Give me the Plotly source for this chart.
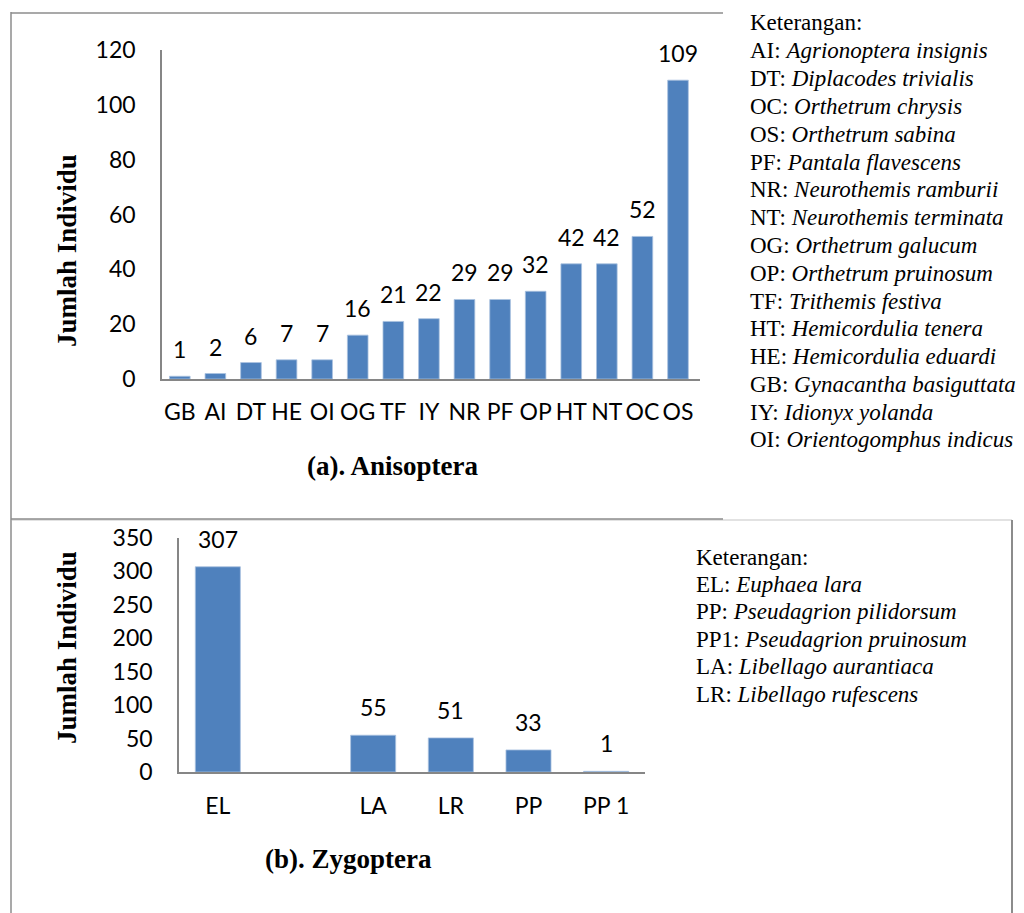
import plotly.graph_objects as go

# ---- data ----
aniso_codes = ["GB", "AI", "DT", "HE", "OI", "OG", "TF", "IY", "NR", "PF", "OP", "HT", "NT", "OC", "OS"]
aniso_counts = [1, 2, 6, 7, 7, 16, 21, 22, 29, 29, 32, 42, 42, 52, 109]
aniso_ticks = [0, 20, 40, 60, 80, 100, 120]

zygo_codes = ["EL", " ", "LA", "LR", "PP", "PP 1"]
zygo_counts = [307, None, 55, 51, 33, 1]
zygo_ticks = [0, 50, 100, 150, 200, 250, 300, 350]

aniso_legend_title = "Keterangan:"
aniso_legend = [
    ("AI", "Agrionoptera insignis"),
    ("DT", "Diplacodes trivialis"),
    ("OC", "Orthetrum chrysis"),
    ("OS", "Orthetrum sabina"),
    ("PF", "Pantala flavescens"),
    ("NR", "Neurothemis ramburii"),
    ("NT", "Neurothemis terminata"),
    ("OG", "Orthetrum galucum"),
    ("OP", "Orthetrum pruinosum"),
    ("TF", "Trithemis festiva"),
    ("HT", "Hemicordulia tenera"),
    ("HE", "Hemicordulia eduardi"),
    ("GB", "Gynacantha basiguttata"),
    ("IY", "Idionyx yolanda"),
    ("OI", "Orientogomphus indicus"),
]
zygo_legend = [
    ("EL", "Euphaea lara"),
    ("PP", "Pseudagrion pilidorsum"),
    ("PP1", "Pseudagrion pruinosum"),
    ("LA", "Libellago aurantiaca"),
    ("LR", "Libellago rufescens"),
]

W, H = 1024, 913
OFF = 8  # page body margin
BAR = "#4F81BD"
AXC = "#868686"
SANS = "Lato"
SERIF = "Liberation Serif, Times New Roman, serif"
ITAL = "Liberation Serif, DejaVu Serif, Times New Roman, serif"
TICKSZ = 23


def px(x):
    return (x - OFF) / W


def py(y):
    return 1 - (y - OFF) / H


fig = go.Figure()

fig.add_trace(go.Bar(
    x=aniso_codes, y=aniso_counts, marker=dict(color=BAR, line=dict(color="#A9C1DF", width=0.8)),
    xaxis="x", yaxis="y", showlegend=False, hoverinfo="x+y"))
fig.add_trace(go.Bar(
    x=zygo_codes, y=zygo_counts, marker=dict(color=BAR, line=dict(color="#A9C1DF", width=0.8)),
    xaxis="x2", yaxis="y2", showlegend=False, hoverinfo="x+y"))

annotations = []
# data labels
for c, v in zip(aniso_codes, aniso_counts):
    annotations.append(dict(x=c, y=v, xref="x", yref="y", text=str(v), showarrow=False,
                            yanchor="middle", yshift=27, font=dict(family=SANS, size=TICKSZ, color="black")))
for c, v in zip(zygo_codes, zygo_counts):
    if v is None:
        continue
    annotations.append(dict(x=c, y=v, xref="x2", yref="y2", text=str(v), showarrow=False,
                            yanchor="middle", yshift=28, font=dict(family=SANS, size=TICKSZ, color="black")))

# axis titles
for yc in (251, 648):
    annotations.append(dict(x=px(67), y=py(yc), xref="paper", yref="paper", text="<b>Jumlah Individu</b>",
                            textangle=-90, showarrow=False, xanchor="center", yanchor="middle",
                            font=dict(family=SERIF, size=27, color="black")))
# panel captions
annotations.append(dict(x=px(392), y=py(466), xref="paper", yref="paper", text="<b>(a). Anisoptera</b>",
                        showarrow=False, xanchor="center", yanchor="middle",
                        font=dict(family=SERIF, size=27, color="black")))
annotations.append(dict(x=px(348), y=py(859), xref="paper", yref="paper", text="<b>(b). Zygoptera</b>",
                        showarrow=False, xanchor="center", yanchor="middle",
                        font=dict(family=SERIF, size=27, color="black")))

# legends (keterangan)
LEG = 23


def leg_text(code, name):
    return f"{code}: <span style=\"font-family:{ITAL};font-style:italic\">{name}</span>"


annotations.append(dict(x=px(748), y=py(23), xref="paper", yref="paper", text=aniso_legend_title,
                        showarrow=False, xanchor="left", yanchor="middle",
                        font=dict(family=SERIF, size=LEG, color="black")))
for i, (code, name) in enumerate(aniso_legend):
    annotations.append(dict(x=px(748), y=py(23 + 27.8 * (i + 1)), xref="paper", yref="paper",
                            text=leg_text(code, name), showarrow=False, xanchor="left", yanchor="middle",
                            font=dict(family=SERIF, size=LEG, color="black")))
annotations.append(dict(x=px(694), y=py(557), xref="paper", yref="paper", text=aniso_legend_title,
                        showarrow=False, xanchor="left", yanchor="middle",
                        font=dict(family=SERIF, size=LEG, color="black")))
for i, (code, name) in enumerate(zygo_legend):
    annotations.append(dict(x=px(694), y=py(557 + 27.4 * (i + 1)), xref="paper", yref="paper",
                            text=leg_text(code, name), showarrow=False, xanchor="left", yanchor="middle",
                            font=dict(family=SERIF, size=LEG, color="black")))


def line(x0, y0, x1, y1, color, width):
    return dict(type="line", xref="paper", yref="paper", x0=px(x0), y0=py(y0), x1=px(x1), y1=py(y1),
                line=dict(color=color, width=width), layer="above")


shapes = [
    line(12, 520, 1012, 520, "#D9D9D9", 1.5),
    line(11, 13, 723, 13, "#8C8C8C", 1.5),
    line(11, 519, 723, 519, "#8C8C8C", 1.5),
    line(11, 12, 11, 921, "#8C8C8C", 1.5),
    line(1012, 520, 1012, 921, "#8C8C8C", 2),
]

axis_common = dict(showgrid=False, zeroline=False, showline=True, linecolor=AXC, linewidth=1.5,
                   automargin=False, ticks="", tickfont=dict(family=SANS, size=TICKSZ, color="black"),
                   fixedrange=True)

fig.update_layout(
    template="none", autosize=False,
    width=W, height=H, margin=dict(l=0, r=0, t=0, b=0, pad=0),
    paper_bgcolor="white", plot_bgcolor="white",
    bargap=0.42, showlegend=False,
    xaxis=dict(domain=[px(162), px(700)], anchor="y", type="category", ticklabelstandoff=12, **axis_common),
    yaxis=dict(domain=[py(379), py(50)], anchor="x", range=[0, 120], tickvals=aniso_ticks,
               ticklabelstandoff=20, **axis_common),
    xaxis2=dict(domain=[px(179), px(645)], anchor="y2", type="category", ticklabelstandoff=13, **axis_common),
    yaxis2=dict(domain=[py(772), py(538)], anchor="x2", range=[0, 350], tickvals=zygo_ticks,
                ticklabelstandoff=20, **axis_common),
    annotations=annotations, shapes=shapes,
)

fig.write_html("out.html", config={"responsive": False, "displayModeBar": False})
